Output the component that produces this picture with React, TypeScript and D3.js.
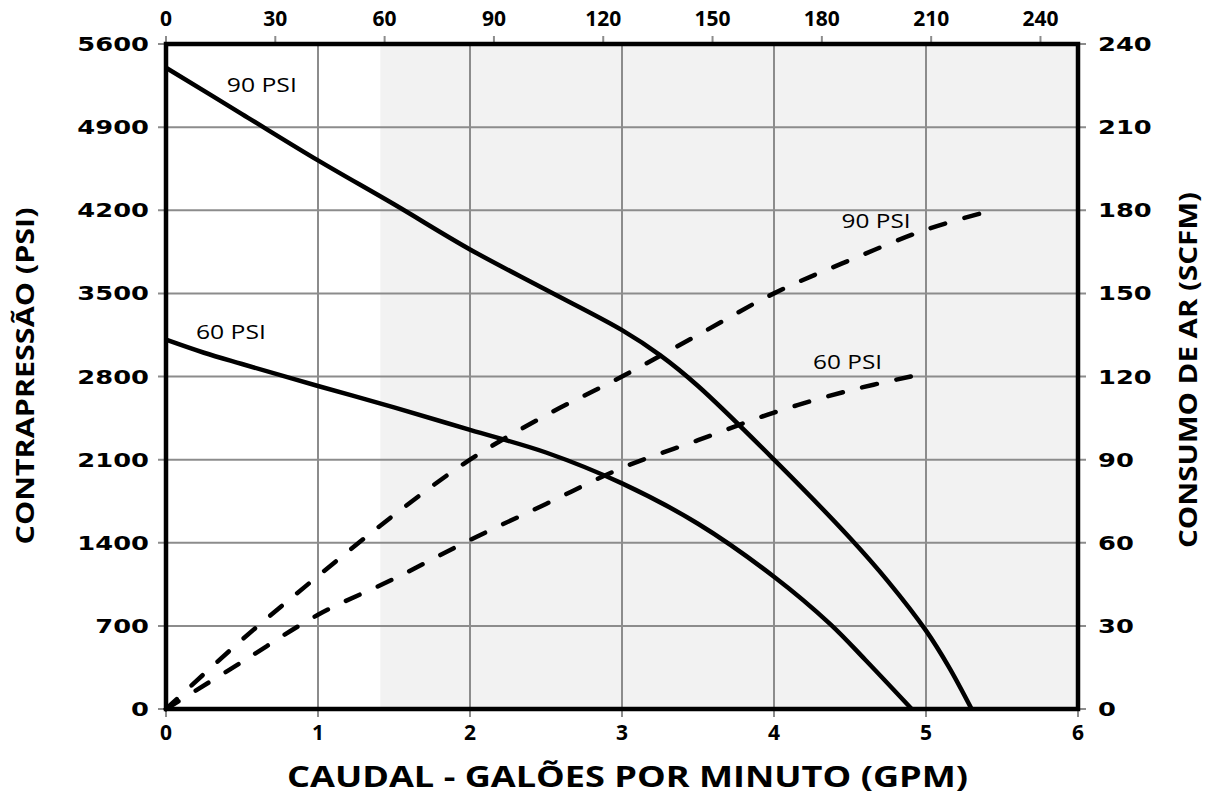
import React from "react";
import * as d3 from "d3";

// ---- data ----
const gpmTicks = [0, 1, 2, 3, 4, 5, 6];
const psiTicks = [0, 700, 1400, 2100, 2800, 3500, 4200, 4900, 5600];
const scfmTicks = [0, 30, 60, 90, 120, 150, 180, 210, 240];
const topTicks = [0, 30, 60, 90, 120, 150, 180, 210, 240];
const shadeStartGpm = 1.41;

// back pressure (PSI) curves
const p90Gpm = [0, 0.5, 1, 1.5, 2, 2.5, 3, 3.25, 3.5, 4, 4.5, 4.75, 5, 5.15, 5.3];
const p90Psi = [5400, 5010, 4620, 4250, 3870, 3530, 3190, 2980, 2720, 2100, 1440, 1075, 660, 355, 0];
const p60Gpm = [0, 0.25, 0.5, 1, 1.5, 2, 2.5, 3, 3.5, 4, 4.37, 4.6, 4.906];
const p60Psi = [3110, 3000, 2905, 2720, 2540, 2350, 2160, 1900, 1560, 1114, 715, 415, 0];

// air consumption (SCFM) curves
const a90Gpm = [0, 0.5, 1, 1.5, 2, 2.5, 3, 3.5, 4, 4.5, 5, 5.37];
const a90Scfm = [0, 25, 48, 70, 90, 106, 120, 135, 150, 162, 173, 179];
const a60Gpm = [0, 0.5, 1, 1.5, 2, 2.5, 3, 3.5, 4, 4.5, 4.9];
const a60Scfm = [0, 17, 34, 47, 61, 74, 87, 97, 107, 115, 120];

// labels (data units)
const labelsPsi = [
  { text: "90 PSI", gpm: 0.4, psi: 5193 },
  { text: "60 PSI", gpm: 0.197, psi: 3116 },
];
const labelsScfm = [
  { text: "90 PSI", gpm: 4.445, scfm: 173.6 },
  { text: "60 PSI", gpm: 4.257, scfm: 122.7 },
];

const W = 1210;
const H = 796;
const M = { left: 166, right: 1078, top: 44, bottom: 709 };

export default function App() {
  const x = d3.scaleLinear().domain([0, 6]).range([M.left, M.right]);
  const xTop = d3.scaleLinear().domain([0, 250.3]).range([M.left, M.right]);
  const yL = d3.scaleLinear().domain([0, 5600]).range([M.bottom, M.top]);
  const yR = d3.scaleLinear().domain([0, 240]).range([M.bottom, M.top]);

  const lineL = d3
    .line<[number, number]>()
    .x((d) => x(d[0]))
    .y((d) => yL(d[1]))
    .curve(d3.curveCatmullRom.alpha(0.5));
  const lineR = d3
    .line<[number, number]>()
    .x((d) => x(d[0]))
    .y((d) => yR(d[1]))
    .curve(d3.curveCatmullRom.alpha(0.5));

  const zip = (a: number[], b: number[]) => a.map((v, i) => [v, b[i]] as [number, number]);

  const grid = "#8c8c8c";
  const boldFont = "'Open Sans', 'Liberation Sans', sans-serif";
  const wideFont = "'DejaVu Sans', sans-serif";

  return (
    <svg
      width={W}
      height={H}
      style={{ position: "absolute", left: 0, top: 0, background: "#fff" }}
    >
      {/* shaded region */}
      <rect
        x={x(shadeStartGpm)}
        y={M.top}
        width={x(6) - x(shadeStartGpm)}
        height={M.bottom - M.top}
        fill="#f2f2f2"
      />
      {/* vertical grid + bottom ticks */}
      {gpmTicks.map((t) => (
        <line
          key={"vg" + t}
          x1={x(t)}
          x2={x(t)}
          y1={M.top}
          y2={M.bottom + 8}
          stroke={grid}
          strokeWidth={2}
        />
      ))}
      {/* horizontal grid + left/right ticks */}
      {psiTicks.map((t) => (
        <line
          key={"hg" + t}
          x1={M.left - 8}
          x2={M.right + 8}
          y1={yL(t)}
          y2={yL(t)}
          stroke={grid}
          strokeWidth={2}
        />
      ))}
      {/* top ticks */}
      {topTicks.map((t) => (
        <line
          key={"tt" + t}
          x1={xTop(t)}
          x2={xTop(t)}
          y1={M.top - 8}
          y2={M.top}
          stroke={grid}
          strokeWidth={2}
        />
      ))}

      {/* curves */}
      <path d={lineL(zip(p90Gpm, p90Psi)) || ""} fill="none" stroke="#000" strokeWidth={4.5} />
      <path d={lineL(zip(p60Gpm, p60Psi)) || ""} fill="none" stroke="#000" strokeWidth={4.5} />
      <path
        d={lineR(zip(a90Gpm, a90Scfm)) || ""}
        fill="none"
        stroke="#000"
        strokeWidth={4.5}
        strokeDasharray="15 20"
        strokeLinecap="round"
      />
      <path
        d={lineR(zip(a60Gpm, a60Scfm)) || ""}
        fill="none"
        stroke="#000"
        strokeWidth={4.5}
        strokeDasharray="15 20"
        strokeLinecap="round"
      />

      {/* frame */}
      <rect
        x={M.left}
        y={M.top}
        width={M.right - M.left}
        height={M.bottom - M.top}
        fill="none"
        stroke="#000"
        strokeWidth={4.5}
      />

      {/* curve labels */}
      {labelsPsi.map((l) => (
        <text
          key={"lp" + l.text}
          x={x(l.gpm)}
          y={yL(l.psi)}
          fontFamily={boldFont}
          fontSize={20}
          textLength={70}
          lengthAdjust="spacingAndGlyphs"
        >
          {l.text}
        </text>
      ))}
      {labelsScfm.map((l) => (
        <text
          key={"ls" + l.text}
          x={x(l.gpm)}
          y={yR(l.scfm)}
          fontFamily={boldFont}
          fontSize={20}
          textLength={69}
          lengthAdjust="spacingAndGlyphs"
        >
          {l.text}
        </text>
      ))}

      {/* left tick labels */}
      {psiTicks.map((t) => (
        <text
          key={"lt" + t}
          transform={`translate(${M.left - 17},${yL(t) + 7}) scale(1.32,1)`}
          textAnchor="end"
          fontFamily={wideFont}
          fontWeight="bold"
          fontSize={19.5}
        >
          {t}
        </text>
      ))}
      {/* right tick labels */}
      {scfmTicks.map((t) => (
        <text
          key={"rt" + t}
          transform={`translate(${M.right + 20},${yR(t) + 7}) scale(1.32,1)`}
          textAnchor="start"
          fontFamily={wideFont}
          fontWeight="bold"
          fontSize={19.5}
        >
          {t}
        </text>
      ))}
      {/* bottom tick labels */}
      {gpmTicks.map((t) => (
        <text
          key={"bt" + t}
          x={x(t)}
          y={740}
          textAnchor="middle"
          fontFamily={boldFont}
          fontWeight="bold"
          fontSize={21}
        >
          {t}
        </text>
      ))}
      {/* top tick labels */}
      {topTicks.map((t) => (
        <text
          key={"tl" + t}
          x={xTop(t)}
          y={26}
          textAnchor="middle"
          fontFamily={boldFont}
          fontWeight="bold"
          fontSize={21}
        >
          {t}
        </text>
      ))}

      {/* axis titles */}
      <text
        x={(M.left + M.right) / 2 + 5.5}
        y={787}
        textAnchor="middle"
        fontFamily={boldFont}
        fontWeight="bold"
        fontSize={28}
        textLength={681}
        lengthAdjust="spacingAndGlyphs"
      >
        CAUDAL - GALÕES POR MINUTO (GPM)
      </text>
      <text
        transform={`translate(34,376) rotate(-90)`}
        textAnchor="middle"
        fontFamily={boldFont}
        fontWeight="bold"
        fontSize={25}
        textLength={337}
        lengthAdjust="spacingAndGlyphs"
      >
        CONTRAPRESSÃO  (PSI)
      </text>
      <text
        transform={`translate(1197,370) rotate(-90)`}
        textAnchor="middle"
        fontFamily={boldFont}
        fontWeight="bold"
        fontSize={25}
        textLength={356}
        lengthAdjust="spacingAndGlyphs"
      >
        CONSUMO DE AR  (SCFM)
      </text>
    </svg>
  );
}
